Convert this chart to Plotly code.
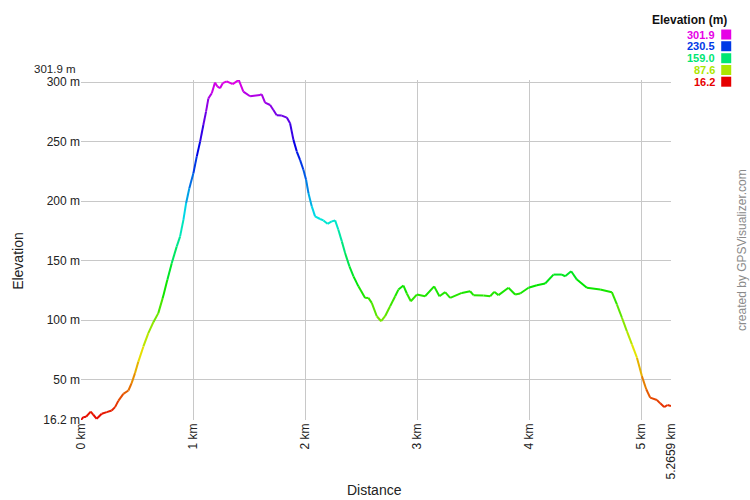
import colorsys
import plotly.graph_objects as go

# ---- data ----
distance_km = [0, 0.02, 0.045, 0.087, 0.11, 0.14, 0.185, 0.23, 0.274, 0.304,
               0.333, 0.378, 0.423, 0.452, 0.482, 0.512, 0.557, 0.601, 0.646, 0.69,
               0.729, 0.771, 0.81, 0.854, 0.884, 0.914, 0.938, 0.967, 1.003, 1.033,
               1.063, 1.092, 1.116, 1.137, 1.167, 1.196, 1.217, 1.241, 1.265, 1.301,
               1.354, 1.408, 1.449, 1.509, 1.598, 1.613, 1.643, 1.688, 1.717, 1.747,
               1.792, 1.837, 1.866, 1.896, 1.926, 1.955, 1.985, 2.009, 2.03, 2.06,
               2.089, 2.134, 2.164, 2.2, 2.238, 2.268, 2.297, 2.328, 2.357, 2.396,
               2.432, 2.476, 2.536, 2.565, 2.595, 2.64, 2.679, 2.714, 2.759, 2.804,
               2.833, 2.878, 2.908, 2.944, 2.997, 3.071, 3.152, 3.199, 3.25, 3.295,
               3.399, 3.473, 3.503, 3.592, 3.652, 3.688, 3.726, 3.815, 3.875, 3.92,
               3.994, 4.069, 4.143, 4.217, 4.292, 4.321, 4.375, 4.426, 4.515, 4.634,
               4.738, 4.783, 4.828, 4.872, 4.917, 4.962, 5.006, 5.045, 5.08, 5.14,
               5.17, 5.205, 5.235, 5.2659]
elevation_m = [16.2, 18.6, 18.9, 23.3, 20.6, 17.2, 21.4, 22.8, 24.2, 27.0,
               32.3, 38.2, 41.0, 47.2, 55.6, 65.3, 78.0, 89.2, 98.4, 106.0,
               118.6, 134.0, 148.0, 161.9, 170.3, 184.4, 198.4, 211.0, 223.6, 237.5,
               250.1, 264.1, 275.3, 286.5, 290.8, 299.7, 296.5, 295.0, 299.2, 300.8,
               298.5, 301.9, 292.1, 288.2, 289.3, 289.9, 282.9, 280.9, 276.7, 272.3,
               272.0, 270.3, 265.6, 251.6, 241.8, 234.8, 226.5, 218.1, 206.9, 195.7,
               187.3, 185.1, 183.9, 181.1, 183.1, 183.9, 176.1, 166.3, 156.5, 145.3,
               136.9, 128.5, 118.8, 118.8, 114.6, 103.4, 99.2, 103.4, 111.8, 120.2,
               125.8, 129.2, 122.5, 116.0, 121.6, 120.2, 128.5, 120.2, 123.6, 118.8,
               123.0, 124.4, 121.1, 120.8, 120.2, 123.9, 121.1, 127.3, 121.6, 122.5,
               127.3, 129.5, 130.9, 138.4, 138.4, 137.0, 141.2, 134.2, 127.3, 125.8,
               123.6, 113.3, 102.1, 90.9, 79.7, 68.6, 53.1, 42.0, 35.0, 33.0,
               30.2, 27.1, 28.8, 27.9]

x_tickvals = [0, 1, 2, 3, 4, 5, 5.2659]
x_ticktext = ["0 km", "1 km", "2 km", "3 km", "4 km", "5 km", "5.2659 km"]
y_tickvals = [16.2, 50, 100, 150, 200, 250, 300, 301.9]
y_ticktext = ["16.2 m", "50 m", "100 m", "150 m", "200 m", "250 m", "300 m", ""]
legend_values = [301.9, 230.5, 159.0, 87.6, 16.2]

E_MIN, E_MAX = 16.2, 301.9
FONT = "Liberation Sans, Arial, sans-serif"


def elev_color(e):
    h = 300.0 * (e - E_MIN) / (E_MAX - E_MIN)
    r, g, b = colorsys.hsv_to_rgb(max(0, min(300, h)) / 360.0, 1.0, 0.9)
    return "rgb(%d,%d,%d)" % (round(r * 255), round(g * 255), round(b * 255))


fig = go.Figure()
for i in range(len(distance_km) - 1):
    mid = (elevation_m[i] + elevation_m[i + 1]) / 2
    fig.add_trace(go.Scatter(
        x=distance_km[i:i + 2], y=elevation_m[i:i + 2], mode="lines",
        line=dict(color=elev_color(mid), width=2), hoverinfo="skip",
        showlegend=False))

# pixel helpers for decorations
L, R, T, B = 81, 79.2, 80, 79.8
PW, PH = 750 - L - R, 500 - T - B


def px(x):
    return (x - L) / PW


def py(y):
    return (500 - B - y) / PH


ann = [
    dict(text="Distance", x=px(374), y=py(490), xref="paper", yref="paper",
         xanchor="center", yanchor="middle", showarrow=False,
         font=dict(size=14, color="#222", family=FONT)),
    dict(text="Elevation", x=px(18), y=py(261), xref="paper", yref="paper",
         xanchor="center", yanchor="middle", showarrow=False, textangle=-90,
         font=dict(size=14, color="#222", family=FONT)),
    dict(text="301.9 m", x=0, xshift=-4, y=301.9, yshift=11, xref="paper", yref="y",
         xanchor="right", yanchor="middle", showarrow=False, borderpad=0,
         font=dict(size=11.5, color="#222", family=FONT)),
    dict(text="created by GPSVisualizer.com", x=px(742), y=py(250), xref="paper",
         yref="paper", xanchor="center", yanchor="middle", showarrow=False,
         textangle=-90, font=dict(size=12, color="#8a8a8a", family=FONT)),
    dict(text="<b>Elevation (m)</b>", x=px(729), y=py(20), xref="paper", yref="paper",
         xanchor="right", yanchor="middle", showarrow=False,
         font=dict(size=12, color="#111", family=FONT)),
]
shapes = []
rows = [34.5, 46.2, 58.2, 70, 81.7]
for v, ry in zip(legend_values, rows):
    c = elev_color(v)
    ann.append(dict(text="<b>%.1f</b>" % v, x=px(716), y=py(ry), xref="paper",
                    yref="paper", xanchor="right", yanchor="middle",
                    showarrow=False, borderpad=0,
                    font=dict(size=11, color=c, family=FONT)))
    shapes.append(dict(type="rect", xref="paper", yref="paper",
                       x0=px(721), x1=px(731), y0=py(ry + 5), y1=py(ry - 5),
                       fillcolor=c, line=dict(width=0)))

fig.update_layout(
    width=750, height=500,
    margin=dict(l=L, r=R, t=T, b=B),
    paper_bgcolor="white", plot_bgcolor="white",
    annotations=ann, shapes=shapes,
    xaxis=dict(range=[0, 5.2659], tickvals=x_tickvals, ticktext=x_ticktext,
               tickangle=-90, showgrid=True, gridcolor="#c8c8c8", gridwidth=1,
               zeroline=False, showline=False, ticks="",
               tickfont=dict(size=12, color="#222", family=FONT)),
    yaxis=dict(range=[16.2, 301.9], tickvals=y_tickvals, ticktext=y_ticktext,
               showgrid=True, gridcolor="#c8c8c8", gridwidth=1,
               zeroline=False, showline=False, ticks="",
               tickfont=dict(size=12, color="#222", family=FONT)),
)

fig.write_html("out.html", config=dict(displayModeBar=False, staticPlot=True),
               post_script="document.body.style.margin='0';"
                           "document.body.style.overflow='hidden';")
